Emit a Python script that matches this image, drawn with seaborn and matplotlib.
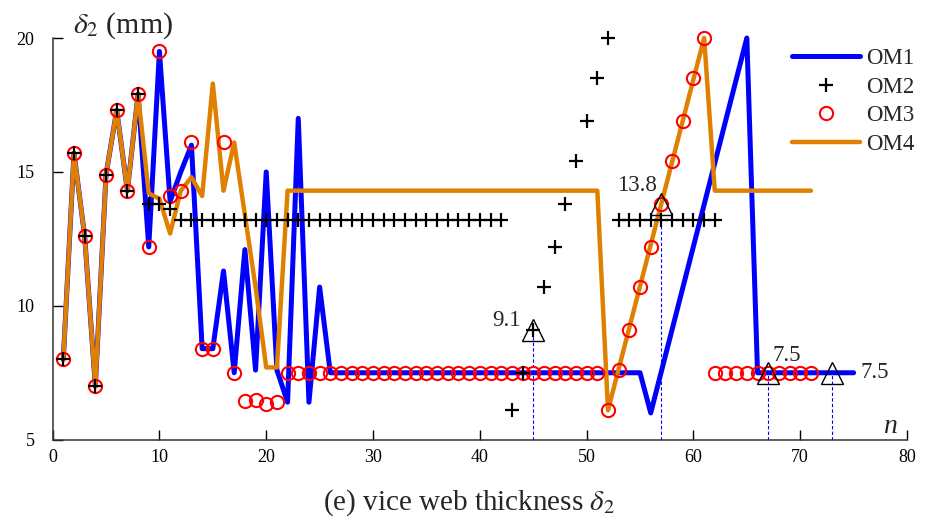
import matplotlib
matplotlib.use("Agg")
import matplotlib.pyplot as plt
import seaborn as sns

# ---------------- data ----------------
# OM1 (blue line) - break points of the polyline
om1_n = list(range(1, 26)) + [26, 55, 56, 65, 66, 75]
om1_v = [8.0, 15.7, 12.6, 7.0, 14.9, 17.3, 14.3, 17.9, 12.2, 19.5,
         13.9, 15.0, 16.0, 8.4, 8.4, 11.3, 7.5, 12.1, 7.6, 15.0,
         7.6, 6.4, 17.0, 6.4, 10.7,
         7.5, 7.5, 6.0, 20.0, 7.5, 7.5]

# OM2 (black plus markers)
om2_n = list(range(1, 63))
om2_v = ([8.0, 15.7, 12.6, 7.0, 14.9, 17.3, 14.3, 17.9, 13.8, 13.8, 13.6]
         + [13.2] * 31
         + [6.1, 7.5, 9.1, 10.7, 12.2, 13.8, 15.4, 16.9, 18.5, 20.0]
         + [13.2] * 10)

# OM3 (red circles)
om3_n = list(range(1, 72))
om3_v = ([8.0, 15.7, 12.6, 7.0, 14.9, 17.3, 14.3, 17.9, 12.2, 19.5,
          14.1, 14.3, 16.1, 8.4, 8.4, 16.1, 7.5, 6.45, 6.5, 6.35, 6.4]
         + [7.5] * 30
         + [6.1, 7.6, 9.1, 10.7, 12.2, 13.8, 15.4, 16.9, 18.5, 20.0]
         + [7.5] * 10)

# OM4 (orange line) - break points
om4_n = list(range(1, 23)) + [51, 52, 61, 62, 71]
om4_v = [8.0, 15.7, 12.6, 7.0, 14.9, 17.3, 14.3, 17.9, 14.2, 14.0,
         12.7, 14.3, 14.8, 14.1, 18.3, 14.3, 16.1, 13.4, 10.7, 7.7,
         7.7, 14.3,
         14.3, 6.1, 20.0, 14.3, 14.3]

# optimum markers (triangles)
opt_n = [45, 57, 67, 73]
opt_v = [9.1, 13.8, 7.5, 7.5]
opt_lbl = ["9.1", "13.8", "7.5", "7.5"]

# label placement (offset points, ha, va)
lbl_pos = [((-9, 3), "right", "baseline"),
           ((-3, 9.5), "right", "baseline"),
           ((3, 8.5), "left", "baseline"),
           ((20, 0), "left", "center")]

BLUE = "#0000FF"
ORANGE = "#E08000"
RED = "#FF0000"

# ---------------- style ----------------
sns.set_style("ticks")
plt.rcParams["font.family"] = ["Liberation Serif", "DejaVu Serif"]
plt.rcParams["mathtext.fontset"] = "stix"

fig = plt.figure(figsize=(9.38, 5.31), dpi=100)
ax = fig.add_axes([0.0561, 0.1719, 0.9109, 0.7565])

sns.lineplot(x=om1_n, y=om1_v, color=BLUE, linewidth=3.6, label="OM1",
             sort=False, estimator=None, ax=ax, zorder=2)
sns.lineplot(x=om4_n, y=om4_v, color=ORANGE, linewidth=3.2, label="OM4",
             sort=False, estimator=None, ax=ax, zorder=3)
sns.lineplot(x=om3_n, y=om3_v, color=RED, linestyle="none", marker="o",
             markersize=9.5, markerfacecolor="none", markeredgecolor=RED,
             markeredgewidth=1.5, label="OM3", sort=False, estimator=None,
             ax=ax, zorder=4)
sns.lineplot(x=om2_n, y=om2_v, color="black", linestyle="none", marker="+",
             markersize=10, markeredgecolor="black", markeredgewidth=1.6,
             label="OM2", sort=False, estimator=None, ax=ax, zorder=5)

# optimum triangles with dashed drop lines
ax.vlines(opt_n, 5, opt_v, colors=BLUE, linestyles=(0, (3, 2)),
          linewidth=0.8, zorder=1)
sns.lineplot(x=opt_n, y=opt_v, color="black", linestyle="none", marker="^",
             markersize=16, markerfacecolor="none", markeredgecolor="black",
             markeredgewidth=1.0, sort=False, estimator=None, ax=ax, zorder=6)
for n, v, t, (off, ha, va) in zip(opt_n, opt_v, opt_lbl, lbl_pos):
    ax.annotate(t, xy=(n, v), xytext=off, textcoords="offset points",
                ha=ha, va=va, fontsize=16.5)

for ln in ax.lines:
    ln.set_clip_on(False)

# axes
ax.set_xlim(0, 80)
ax.set_ylim(5, 20)
ax.set_xticks(range(0, 81, 10))
ax.set_yticks([5, 10, 15, 20])
ax.tick_params(axis="both", direction="in", length=7, width=1.0,
               labelsize=13, colors="black")
ax.tick_params(axis="y", pad=13)
ax.tick_params(axis="x", pad=7)
sns.despine(ax=ax)
for s in ["left", "bottom"]:
    ax.spines[s].set_color("#333333")
    ax.spines[s].set_linewidth(1.1)

# legend in OM1..OM4 order
h, l = ax.get_legend_handles_labels()
order = [l.index(k) for k in ["OM1", "OM2", "OM3", "OM4"]]
ax.legend([h[i] for i in order], [l[i] for i in order],
          loc="upper left", bbox_to_anchor=(792 / 938, 1 - 48 / 531),
          bbox_transform=fig.transFigure, frameon=False, fontsize=16.5,
          handlelength=2.95, handletextpad=0.3, labelspacing=0.33,
          borderpad=0, borderaxespad=0)

# labels
fig.text(73 / 938, 1 - 33 / 531, r"$\delta_2$ (mm)", fontsize=21.5,
         va="baseline", ha="left")
fig.text(890 / 938, 1 - 433 / 531, "n", fontsize=20, style="italic",
         va="baseline", ha="center")
fig.text(0.5, 1 - 510 / 531, r"(e) vice web thickness $\delta_2$",
         fontsize=21, ha="center", va="baseline")

fig.savefig("out.png", dpi=100)
